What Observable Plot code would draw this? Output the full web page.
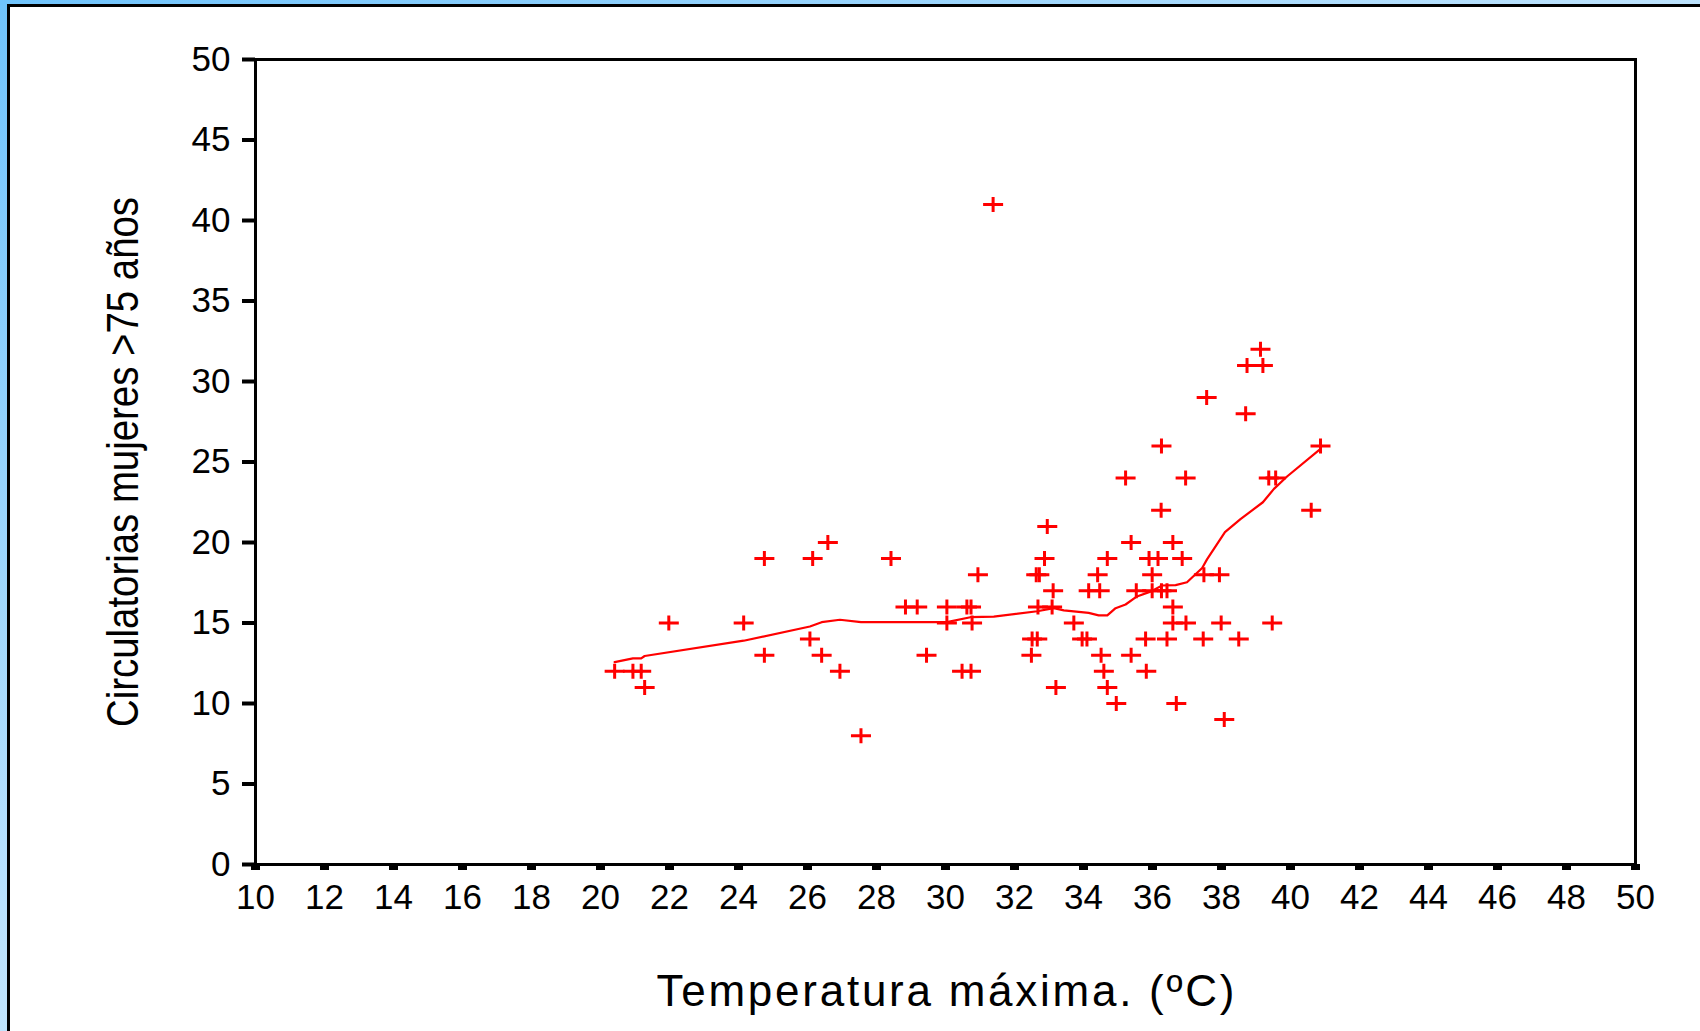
<!DOCTYPE html>
<html><head><meta charset="utf-8">
<script src="https://cdn.jsdelivr.net/npm/d3@7"></script>
<script src="https://cdn.jsdelivr.net/npm/@observablehq/plot@0.6"></script>
<style>
html,body{margin:0;padding:0;width:1700px;height:1031px;overflow:hidden;}
body{background:linear-gradient(150deg,#6fc3fb 0%,#b9e1fd 45%,#eef8ff 100%);position:relative;font-family:"Liberation Sans",Arial,sans-serif;}
#sheet{position:absolute;left:7px;top:4px;right:0;bottom:0;background:#fff;border-left:3px solid #000;border-top:3px solid #000;}
#chart{position:absolute;left:0;top:0;}
</style></head><body><div id="sheet"></div><div id="chart"></div>
<script>
// Data
const temperature = [
  20.41, 20.94, 21.18, 21.28, 21.98, 24.15, 24.75, 24.75, 26.07, 26.15,
  26.41, 26.59, 26.94, 27.55, 28.42, 28.84, 29.18, 29.45, 30.04, 30.04,
  30.48, 30.62, 30.74, 30.74, 30.77, 30.94, 31.38, 32.49, 32.51, 32.63,
  32.66, 32.68, 32.72, 32.87, 32.95, 33.09, 33.12, 33.20, 33.72, 33.96,
  34.10, 34.15, 34.41, 34.47, 34.51, 34.59, 34.69, 34.69, 34.95, 35.22,
  35.38, 35.38, 35.53, 35.80, 35.82, 35.90, 35.99, 35.99, 36.16, 36.25,
  36.26, 36.26, 36.42, 36.42, 36.59, 36.59, 36.59, 36.69, 36.86, 36.96,
  36.97, 37.47, 37.49, 37.57, 37.94, 37.99, 38.08, 38.50, 38.70, 38.74,
  39.13, 39.20, 39.37, 39.47, 39.57, 40.60, 40.87
];
const deaths = [
  12, 12, 12, 11, 15, 15, 19, 13, 14, 19,
  13, 20, 12, 8, 19, 16, 16, 13, 16, 15,
  12, 16, 16, 12, 15, 18, 41, 13, 14, 18,
  14, 16, 18, 19, 21, 16, 17, 11, 15, 14,
  14, 17, 18, 17, 13, 12, 19, 11, 10, 24,
  20, 13, 17, 14, 12, 19, 18, 17, 19, 22,
  26, 17, 17, 14, 20, 16, 15, 10, 19, 24,
  15, 14, 18, 29, 18, 15, 9, 14, 28, 31,
  32, 31, 24, 15, 24, 22, 26
];
// Smoothed fit line
const fitTemperature = [
  20.41, 20.94, 21.18, 21.28, 24.15, 26.07, 26.41, 26.94, 27.55, 30.04,
  30.72, 31.40, 32.66, 33.14, 33.43, 34.15, 34.44, 34.69, 34.93, 35.22,
  35.55, 35.94, 36.28, 36.67, 37.00, 37.44, 37.58, 38.10, 38.55, 39.20,
  39.52, 39.90, 40.87
];
const fitValue = [
  12.57, 12.80, 12.80, 12.95, 13.90, 14.78, 15.05, 15.20, 15.05, 15.05,
  15.36, 15.40, 15.73, 15.92, 15.78, 15.63, 15.47, 15.47, 15.92, 16.15,
  16.65, 16.95, 17.33, 17.35, 17.53, 18.42, 18.95, 20.64, 21.45, 22.50,
  23.33, 24.10, 25.82
];
const xTicks = d3.range(10, 51, 2);
const yTicks = d3.range(0, 51, 5);
const xTitle = "Temperatura máxima. (ºC)";
const yTitle = "Circulatorias mujeres >75 años";

const points = temperature.map((t, i) => ({t, v: deaths[i]}));
const fit = fitTemperature.map((t, i) => ({t, v: fitValue[i]}));

const cross = {draw(ctx) { ctx.moveTo(-10, 0); ctx.lineTo(10, 0); ctx.moveTo(0, -7.5); ctx.lineTo(0, 7.5); }};
const font = "'Liberation Sans', Arial, sans-serif";

const chart = Plot.plot({
  width: 1700, height: 1031,
  marginLeft: 255, marginRight: 65, marginTop: 59, marginBottom: 167,
  style: {background: "transparent", fontFamily: font, color: "#000", overflow: "visible"},
  x: {domain: [10, 50]},
  y: {domain: [0, 50]},
  marks: [
    Plot.axisY(yTicks, {tickSize: 13, strokeWidth: 4, tickPadding: 12, fontSize: 35, label: null}),
    Plot.axisX(xTicks, {tickSize: 6, strokeWidth: 9, tickPadding: 14, fontSize: 35, label: null}),
    Plot.frame({stroke: "#000", strokeWidth: 3}),
    Plot.line(fit, {x: "t", y: "v", stroke: "#ff0000", strokeWidth: 2.2}),
    Plot.dot(points, {x: "t", y: "v", symbol: cross, stroke: "#ff0000", strokeWidth: 3, fill: "none"}),
    Plot.text([xTitle], {text: d => d, frameAnchor: "bottom", textAnchor: "middle", dy: 141, lineAnchor: "bottom", fontSize: 44, fill: "#000"}),
    Plot.text([yTitle], {text: d => d, frameAnchor: "left", textAnchor: "middle", dx: -118, rotate: -90, lineAnchor: "bottom", fontSize: 44, fill: "#000"})
  ]
});
document.getElementById("chart").appendChild(chart);
d3.select(chart).selectAll("text").filter(function() { return this.textContent === yTitle; })
  .attr("textLength", 530).attr("lengthAdjust", "spacingAndGlyphs");
d3.select(chart).selectAll("text").filter(function() { return this.textContent === xTitle; })
  .attr("textLength", 578).attr("lengthAdjust", "spacing");
</script>
</body></html>
